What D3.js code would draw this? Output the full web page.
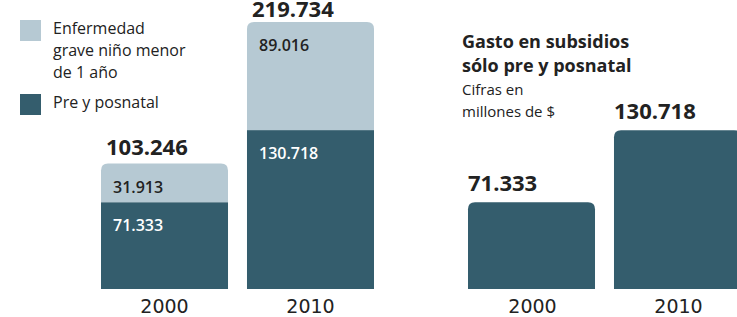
<!DOCTYPE html>
<html><head><meta charset="utf-8">
<script src="https://cdn.jsdelivr.net/npm/d3@7"></script>
<style>
html,body{margin:0;padding:0;background:#fff;}
svg{display:block;font-family:"Open Sans",sans-serif;}
</style></head>
<body><svg id="c" width="737" height="317"></svg>
<script>
const years = ["2000", "2010"];
const prePosnatal = [71333, 130718];
const enfermedad = [31913, 89016];
const totals = [103246, 219734];
const legendLabels = [["Enfermedad", "grave niño menor", "de 1 año"], ["Pre y posnatal"]];
const titleLines = ["Gasto en subsidios", "sólo pre y posnatal"];
const subtitleLines = ["Cifras en", "millones de $"];

const cLight = "#b6c9d3", cDark = "#345d6d", cText = "#222";
const loc = d3.formatLocale({decimal: ",", thousands: ".", grouping: [3], currency: ["$", ""]});
const fmt = loc.format(",d");

const svg = d3.select("#c");
const y = d3.scaleLinear().domain([0, 219734]).range([289, 22]);
const xL = d3.scaleBand().domain(years).range([101, 374]).paddingInner(0.13).paddingOuter(0);
const xR = d3.scaleBand().domain(years).range([468, 741]).paddingInner(0.13).paddingOuter(0);
const r = 7;

function topRounded(x, w, y0, y1) {
  return `M${x},${y1}V${y0 + r}Q${x},${y0} ${x + r},${y0}H${x + w - r}Q${x + w},${y0} ${x + w},${y0 + r}V${y1}Z`;
}

const yearFont = "'DejaVu Sans',sans-serif";

// Left stacked chart
const gL = svg.append("g");
years.forEach((yr, i) => {
  const x = xL(yr), w = xL.bandwidth();
  gL.append("path").attr("d", topRounded(x, w, y(totals[i]), y(prePosnatal[i]))).attr("fill", cLight);
  gL.append("rect").attr("x", x).attr("y", y(prePosnatal[i])).attr("width", w)
    .attr("height", y(0) - y(prePosnatal[i])).attr("fill", cDark);
  gL.append("text").attr("x", x + 12).attr("y", y(totals[i]) + 29)
    .attr("font-size", 16).attr("font-weight", 600).attr("fill", cText).text(fmt(enfermedad[i]));
  gL.append("text").attr("x", x + 12).attr("y", y(prePosnatal[i]) + 29)
    .attr("font-size", 16).attr("font-weight", 600).attr("fill", "#fff").text(fmt(prePosnatal[i]));
  gL.append("text").attr("x", x + 5).attr("y", Math.max(y(totals[i]) - 9, 17))
    .attr("font-size", 22).attr("font-weight", 700).attr("fill", cText).text(fmt(totals[i]));
  gL.append("text").attr("x", x + w / 2).attr("y", 313).attr("text-anchor", "middle")
    .attr("font-family", yearFont).attr("font-size", 19).attr("fill", cText).text(yr);
});

// Legend
const legColors = [cLight, cDark];
const legY = [20, 94];
legendLabels.forEach((lines, i) => {
  svg.append("rect").attr("x", 20).attr("y", legY[i]).attr("width", 21).attr("height", 21).attr("fill", legColors[i]);
  lines.forEach((t, j) => {
    svg.append("text").attr("x", 53).attr("y", legY[i] + 14 + j * 22)
      .attr("font-size", 16).attr("fill", cText).text(t);
  });
});

// Right chart
const gR = svg.append("g");
titleLines.forEach((t, j) => {
  gR.append("text").attr("x", 462).attr("y", 48 + j * 24).attr("font-size", 18)
    .attr("font-weight", 700).attr("fill", cText).text(t);
});
subtitleLines.forEach((t, j) => {
  gR.append("text").attr("x", 462).attr("y", 95 + j * 22).attr("font-size", 15)
    .attr("fill", cText).text(t);
});
years.forEach((yr, i) => {
  const x = xR(yr), w = xR.bandwidth();
  gR.append("path").attr("d", topRounded(x, w, y(prePosnatal[i]), y(0))).attr("fill", cDark);
  gR.append("text").attr("x", x).attr("y", y(prePosnatal[i]) - 11)
    .attr("font-size", 22).attr("font-weight", 700).attr("fill", cText).text(fmt(prePosnatal[i]));
  gR.append("text").attr("x", x + w / 2 + 1).attr("y", 313).attr("text-anchor", "middle")
    .attr("font-family", yearFont).attr("font-size", 19).attr("fill", cText).text(yr);
});
</script></body></html>
